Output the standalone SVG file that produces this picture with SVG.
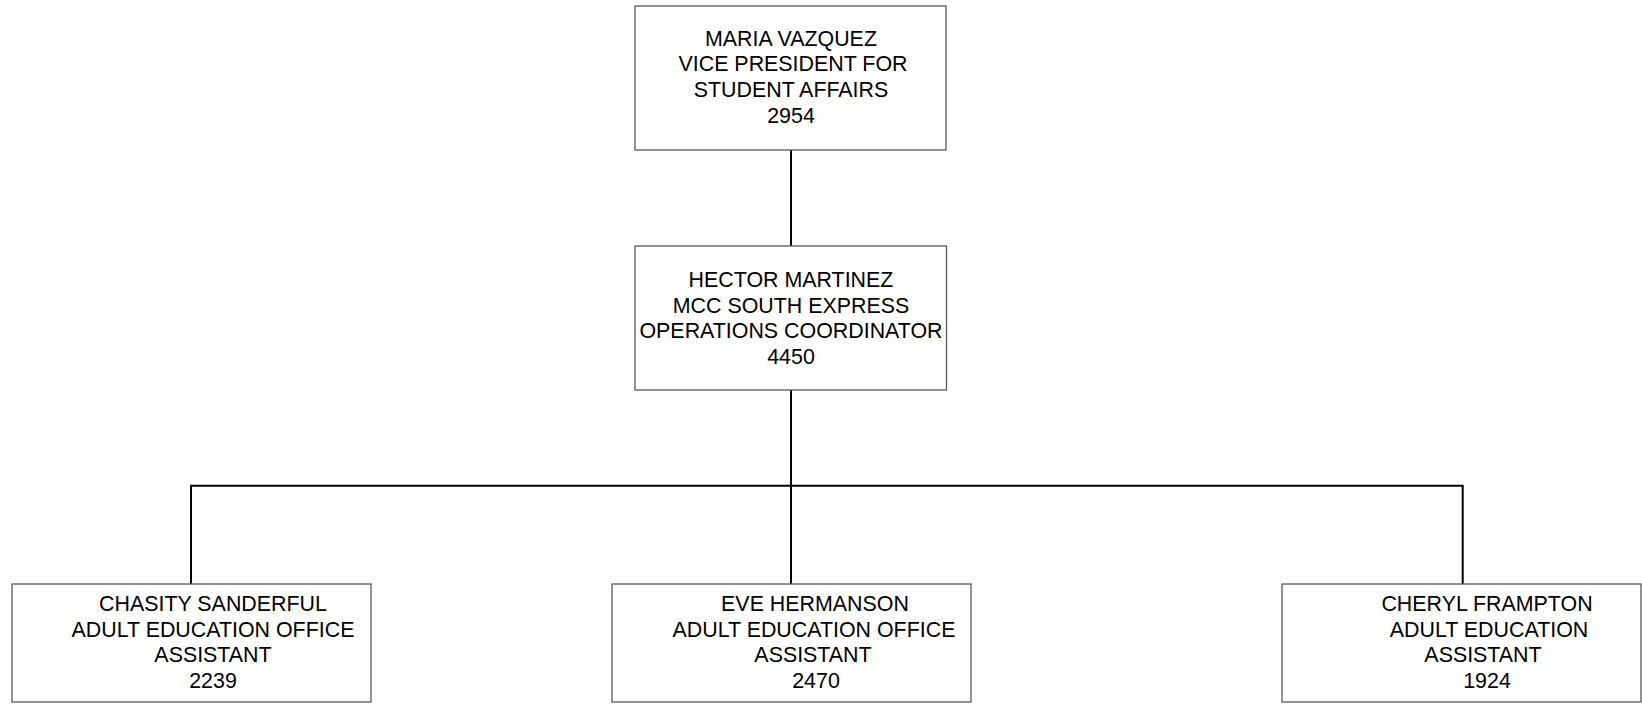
<svg xmlns="http://www.w3.org/2000/svg" width="1642" height="704" viewBox="0 0 1642 704">
<style>
.box{fill:#fff;stroke:#5a5a5a;stroke-width:1.3}
.t{font-family:"Liberation Sans",Arial,sans-serif;font-size:21.4px;fill:#000;text-anchor:middle}
.c{fill:none;stroke:#000;stroke-width:2}
</style>
<rect width="1642" height="704" fill="#fff"/>
<g id="connectors">
<line class="c" x1="791" y1="150" x2="791" y2="246"/>
<line class="c" x1="791" y1="390" x2="791" y2="584"/>
<polyline class="c" points="191,584 191,485.7 1462.7,485.7 1462.7,584"/>
</g>
<g id="maria">
<rect class="box" x="635" y="6" width="311" height="144"/>
<text class="t" x="791" y="45.5">MARIA VAZQUEZ</text>
<text class="t" x="793" y="71.2">VICE PRESIDENT FOR</text>
<text class="t" x="791" y="96.9">STUDENT AFFAIRS</text>
<text class="t" x="791" y="122.6">2954</text>
</g>
<g id="hector">
<rect class="box" x="635" y="246" width="311.5" height="144"/>
<text class="t" x="791" y="287">HECTOR MARTINEZ</text>
<text class="t" x="791" y="312.5">MCC SOUTH EXPRESS</text>
<text class="t" x="791" y="338">OPERATIONS COORDINATOR</text>
<text class="t" x="791" y="363.5">4450</text>
</g>
<g id="chasity">
<rect class="box" x="12" y="584" width="359" height="118"/>
<text class="t" x="213" y="611">CHASITY SANDERFUL</text>
<text class="t" x="213" y="636.7">ADULT EDUCATION OFFICE</text>
<text class="t" x="213" y="662.3">ASSISTANT</text>
<text class="t" x="213" y="688">2239</text>
</g>
<g id="eve">
<rect class="box" x="612" y="584" width="359" height="118"/>
<text class="t" x="815" y="611">EVE HERMANSON</text>
<text class="t" x="814" y="636.7">ADULT EDUCATION OFFICE</text>
<text class="t" x="813" y="662.3">ASSISTANT</text>
<text class="t" x="816" y="688">2470</text>
</g>
<g id="cheryl">
<rect class="box" x="1282" y="584" width="359" height="118"/>
<text class="t" x="1487" y="611">CHERYL FRAMPTON</text>
<text class="t" x="1489" y="636.7">ADULT EDUCATION</text>
<text class="t" x="1483" y="662.3">ASSISTANT</text>
<text class="t" x="1487" y="688">1924</text>
</g>
</svg>
